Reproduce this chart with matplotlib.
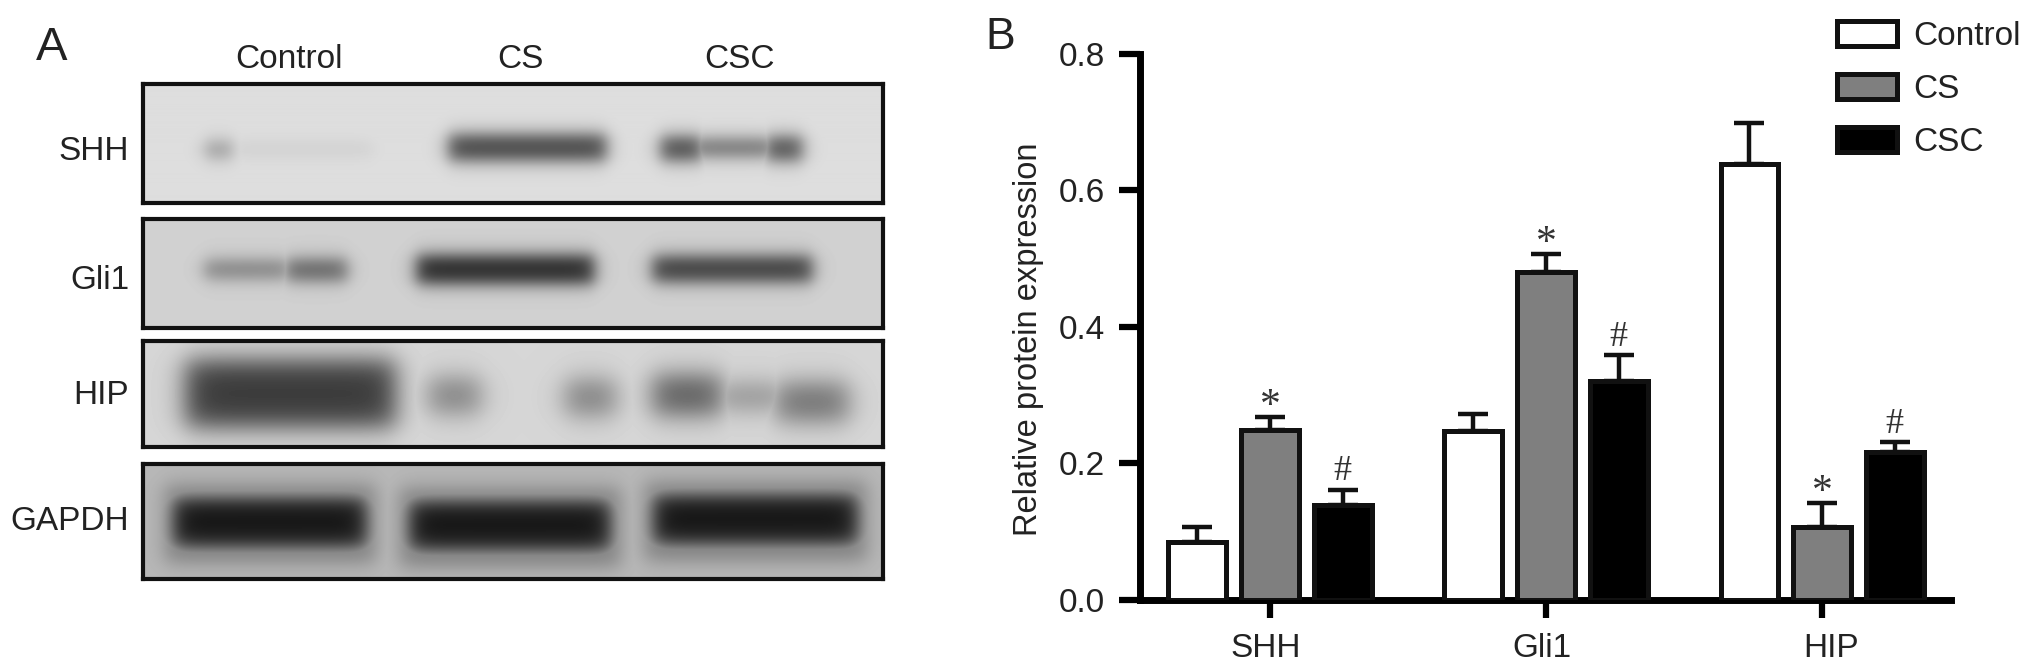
import numpy as np
import matplotlib
matplotlib.use("Agg")
import matplotlib.pyplot as plt
from matplotlib.patches import Patch
from matplotlib.transforms import ScaledTranslation

plt.rcParams['font.family'] = ['Liberation Sans', 'DejaVu Sans']

W, H = 2032, 672

# panel B values
targets = ["SHH", "Gli1", "HIP"]
groups = ["Control", "CS", "CSC"]
control_vals = [0.085, 0.247, 0.638]
cs_vals = [0.248, 0.480, 0.106]
csc_vals = [0.138, 0.320, 0.216]
control_err = [0.021, 0.025, 0.060]
cs_err = [0.019, 0.026, 0.035]
csc_err = [0.023, 0.038, 0.015]
yticks = [0.0, 0.2, 0.4, 0.6, 0.8]

# panel A blots: name, box, background grey, edge softness, bands (x0, x1, y0, y1, darkness)
blot_names = ["SHH", "Gli1", "HIP", "GAPDH"]
blot_boxes = [(143, 883, 84, 203), (143, 883, 219, 328), (143, 883, 341, 447), (143, 883, 464, 579)]
blot_bg = [0.87, 0.82, 0.84, 0.72]
blot_soft = [5, 5, 8, 6]
blot_label_y = [151, 280, 395, 521]
shh_bands = [(205, 232, 142, 157, 0.30), (232, 372, 144, 154, 0.07),
             (448, 606, 135, 160, 0.62),
             (660, 702, 137, 160, 0.60), (690, 775, 139, 156, 0.46), (765, 802, 137, 160, 0.58)]
gli1_bands = [(204, 290, 260, 278, 0.33), (285, 347, 259, 280, 0.45),
              (416, 594, 255, 283, 0.68),
              (652, 812, 256, 281, 0.60)]
hip_bands = [(185, 395, 360, 426, 0.62),
             (428, 480, 378, 412, 0.36), (565, 615, 380, 414, 0.37),
             (652, 722, 375, 414, 0.50), (715, 785, 384, 408, 0.30), (775, 848, 383, 420, 0.42)]
gapdh_bands = [(172, 367, 497, 547, 0.64), (408, 611, 500, 550, 0.64), (652, 858, 494, 544, 0.64),
               (165, 375, 485, 562, 0.22), (400, 620, 488, 566, 0.22), (645, 866, 482, 560, 0.22)]
blot_bands = [shh_bands, gli1_bands, hip_bands, gapdh_bands]


def px_axes(fig, x0, x1, y0, y1):
    return fig.add_axes([x0 / W, 1 - y1 / H, (x1 - x0) / W, (y1 - y0) / H])


def draw_blot(fig, box, bg, soft, bands):
    x0, x1, y0, y1 = box
    ax = px_axes(fig, x0, x1, y0, y1)
    xx, yy = np.meshgrid(np.arange(x0, x1), np.arange(y0, y1))
    dark = np.zeros(xx.shape)
    for bx0, bx1, by0, by1, d in bands:
        sx = 1 / (1 + np.exp((bx0 - xx) / soft)) * 1 / (1 + np.exp((xx - bx1) / soft))
        sy = 1 / (1 + np.exp((by0 - yy) / soft)) * 1 / (1 + np.exp((yy - by1) / soft))
        dark = np.maximum(dark, d * sx * sy)
    ax.imshow(bg - dark, cmap="gray", vmin=0, vmax=1, aspect="auto", extent=(x0, x1, y1, y0))
    ax.set_xticks([])
    ax.set_yticks([])
    for s in ax.spines.values():
        s.set_linewidth(3)
        s.set_color("#111111")


fig = plt.figure(figsize=(W / 100, H / 100), dpi=100)

# panel A
for name, box, bg, soft, bands, ly in zip(blot_names, blot_boxes, blot_bg, blot_soft, blot_bands, blot_label_y):
    draw_blot(fig, box, bg, soft, bands)
    fig.text(129 / W, 1 - ly / H, name, fontsize=24, ha="right", va="center", color="#222222")
for label, lx in zip(groups, [289, 520, 740]):
    fig.text(lx / W, 1 - 59 / H, label, fontsize=24, ha="center", va="center", color="#222222")
fig.text(36 / W, 1 - 60 / H, "A", fontsize=34, color="#222222")
fig.text(985 / W, 1 - 49 / H, "B", fontsize=32, color="#222222")

# panel B
ax = px_axes(fig, 1140, 1951, 53.6, 599.6)
x = np.arange(len(targets))
spacing = 0.263
bar_w = 0.21
series = [(control_vals, control_err, "white"),
          (cs_vals, cs_err, "#7f7f7f"),
          (csc_vals, csc_err, "black")]
for i, (vals, errs, color) in enumerate(series):
    xpos = x + (i - 1) * spacing
    ax.errorbar(xpos, vals, yerr=[np.zeros(len(vals)), errs], fmt="none", ecolor="#111111",
                elinewidth=3.2, capsize=11, capthick=3.2, zorder=2)
    ax.bar(xpos, vals, bar_w, color=color, edgecolor="#111111", linewidth=3.6, zorder=3)

# significance marks
for j in range(3):
    ax.annotate("*", (x[j], cs_vals[j] + cs_err[j]), xytext=(0, -6), textcoords="offset points",
                ha="center", va="bottom", fontsize=30, color="#333333",
                family=["Liberation Serif", "DejaVu Sans"])
    ax.annotate("#", (x[j] + spacing, csc_vals[j] + csc_err[j]), xytext=(0, 1), textcoords="offset points",
                ha="center", va="bottom", fontsize=26, color="#333333",
                family=["Liberation Serif", "DejaVu Sans"])

ax.set_xlim(-0.471, 2.467)
ax.set_ylim(0, 0.8)
ax.set_yticks(yticks)
ax.set_yticklabels([f"{t:.1f}" for t in yticks])
ax.set_xticks(x)
ax.set_xticklabels(targets)
ax.tick_params(axis="y", length=15, width=4.5, labelsize=24, pad=10, labelcolor="#222222")
ax.tick_params(axis="x", length=13, width=4.5, labelsize=24, pad=11, labelcolor="#222222")
ax.spines["top"].set_visible(False)
ax.spines["right"].set_visible(False)
ax.spines["left"].set_linewidth(5)
ax.spines["bottom"].set_linewidth(5)
ax.set_ylabel("Relative protein expression", fontsize=23.5, color="#222222", labelpad=11, y=0.476)
for lab, shift in zip(ax.get_xticklabels(), [-4, -4, 9]):
    lab.set_transform(lab.get_transform() + ScaledTranslation(shift / 100, 0, fig.dpi_scale_trans))

handles = [Patch(facecolor=c, edgecolor="#111111", linewidth=3.6) for c in ["white", "#7f7f7f", "black"]]
fig.legend(handles, groups, loc="upper left", bbox_to_anchor=(1837 / W, 1 - 21 / H), frameon=False,
           fontsize=24, handlelength=1.8, handleheight=0.75, handletextpad=0.5,
           labelspacing=0.66, borderpad=0, borderaxespad=0, labelcolor="#222222")

fig.savefig("out.png", dpi=100)
